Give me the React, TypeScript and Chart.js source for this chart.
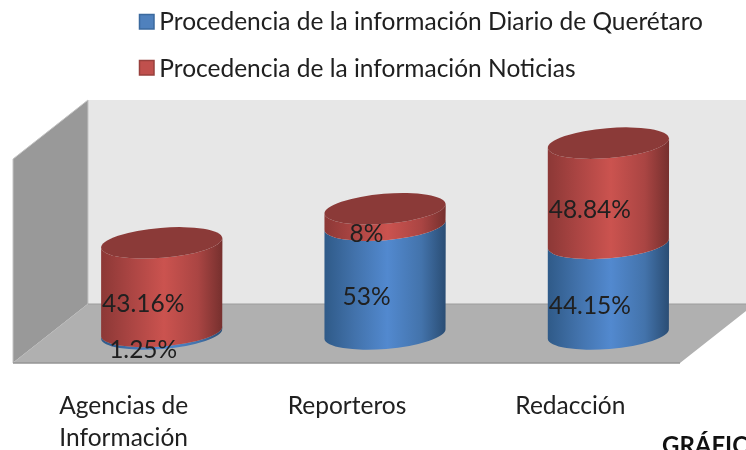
import React, { useEffect, useRef } from "react";
import { Chart, registerables } from "chart.js";

Chart.register(...registerables);

const categories = [["Agencias de", "Información"], ["Reporteros"], ["Redacción"]];
const seriesNames = [
  "Procedencia de la información Diario de Querétaro",
  "Procedencia de la información Noticias",
];
const diarioValues = [1.25, 53, 44.15];
const noticiasValues = [43.16, 8, 48.84];
const cutOffCaption = "GRÁFICO";

const FONT = "Lato, Carlito, 'Open Sans', sans-serif";
const TEXT = "#202020";
const LEGEND_SIZE = 24.5;
const LEGEND_PAD = 23;
const BLUE = "#4f81bd";
const RED = "#c0504d";

const RX_TILT = -0.082;
const RY = 15;

function gradientFor(ctx: CanvasRenderingContext2D, l: number, r: number, stops: string[]) {
  const g = ctx.createLinearGradient(l, 0, r, 0);
  g.addColorStop(0, stops[0]);
  g.addColorStop(0.25, stops[1]);
  g.addColorStop(0.52, stops[2]);
  g.addColorStop(0.8, stops[3]);
  g.addColorStop(1, stops[4]);
  return g;
}
const blueStops = ["#2f5a88", "#4272ab", "#5289cf", "#4373ab", "#2a4d74"];
const redStops = ["#8c3836", "#ab4543", "#cb534f", "#aa4543", "#76302e"];

const scene = {
  id: "scene",
  beforeLayout(chart: any) {
    const legend = chart.legend;
    if (legend && !legend.__wrapped) {
      const fit = legend.fit;
      legend.fit = function () {
        fit.call(this);
        this.height = 100;
      };
      legend.__wrapped = true;
    }
  },
  afterLayout(chart: any) {
    const legend = chart.legend;
    legend.left = 139 - LEGEND_PAD;
    legend.top = 22 - LEGEND_PAD - LEGEND_SIZE / 2;
  },
  beforeDraw(chart: any) {
    const { ctx, chartArea: a } = chart;
    const yTop = a.top;
    const yBack = a.bottom - 30;
    const yFront = a.bottom + 29;
    const xBack = a.left + 38;
    const xFront = a.left - 37;
    const dx = 75;
    const dy = 59;
    const poly = (pts: number[][], fill: string, stroke?: string) => {
      ctx.beginPath();
      pts.forEach((p, i) => (i ? ctx.lineTo(p[0], p[1]) : ctx.moveTo(p[0], p[1])));
      ctx.closePath();
      ctx.fillStyle = fill;
      ctx.fill();
      if (stroke) {
        ctx.strokeStyle = stroke;
        ctx.lineWidth = 1;
        ctx.stroke();
      }
    };
    ctx.save();
    poly([[xBack, yTop], [800, yTop], [800, yBack], [xBack, yBack]], "#e7e7e7");
    poly([[xFront, yTop + dy], [xBack, yTop], [xBack, yBack], [xFront, yBack + dy]], "#999999", "#c4c4c4");
    poly([[xBack, yBack], [800, yBack], [680 + dx, yBack], [680, yFront], [xFront, yFront]], "#b0b0b0");
    ctx.strokeStyle = "#949494";
    ctx.lineWidth = 1.5;
    ctx.beginPath();
    ctx.moveTo(xFront, yFront);
    ctx.lineTo(680, yFront);
    ctx.stroke();
    ctx.strokeStyle = "#9c9c9c";
    ctx.lineWidth = 1;
    ctx.beginPath();
    ctx.moveTo(xBack, yBack);
    ctx.lineTo(746, yBack);
    ctx.stroke();
    ctx.restore();
  },
  beforeDatasetDraw() {
    return false;
  },
  afterDatasetsDraw(chart: any) {
    const { ctx } = chart;
    const last = chart.data.datasets.length - 1;
    const yScale = chart.scales.y;
    ctx.save();
    chart.data.datasets.forEach((_: any, di: number) => {
      const meta = chart.getDatasetMeta(di);
      meta.data.forEach((el: any) => {
        const rx = el.width / 2;
        const l = el.x - rx;
        const r = el.x + rx;
        const dyEdge = Math.sin(RX_TILT) * rx;
        ctx.beginPath();
        ctx.ellipse(el.x, el.base, rx, RY, RX_TILT, Math.PI, 0, true);
        ctx.lineTo(r, el.y + dyEdge);
        ctx.ellipse(el.x, el.y, rx, RY, RX_TILT, 0, Math.PI, false);
        ctx.closePath();
        ctx.fillStyle = gradientFor(ctx, l, r, di === 0 ? blueStops : redStops);
        ctx.fill();
        if (di === last) {
          ctx.beginPath();
          ctx.ellipse(el.x, el.y, rx, RY, RX_TILT, 0, Math.PI * 2);
          ctx.fillStyle = "#8b3a38";
          ctx.fill();
        }
      });
    });
    ctx.font = `${LEGEND_SIZE}px ${FONT}`;
    ctx.fillStyle = TEXT;
    ctx.textAlign = "center";
    ctx.textBaseline = "middle";
    chart.data.datasets.forEach((ds: any, di: number) => {
      const meta = chart.getDatasetMeta(di);
      meta.data.forEach((el: any, i: number) => {
        const start = yScale.getValueForPixel(el.base);
        const mid = start + ds.data[i] / 2;
        ctx.fillText(`${ds.data[i]}%`, el.x - 18.5, yScale.getPixelForValue(mid) + 17);
      });
    });
    ctx.restore();
  },
  afterDraw(chart: any) {
    const { ctx } = chart;
    ctx.save();
    // legend swatches
    [BLUE, RED].forEach((c, i) => {
      const y = [14.5, 60.5][i];
      ctx.fillStyle = c;
      ctx.strokeStyle = i ? "#98403d" : "#3b6a9e";
      ctx.lineWidth = 1.5;
      ctx.beginPath();
      ctx.rect(139.5, y, 14.5, 14.5);
      ctx.fill();
      ctx.stroke();
    });
    ctx.font = `bold 24px ${FONT}`;
    ctx.fillStyle = "#111111";
    ctx.textAlign = "left";
    ctx.textBaseline = "alphabetic";
    ctx.fillText(cutOffCaption, 662, 454);
    ctx.restore();
  },
};

export default function App() {
  const ref = useRef<HTMLCanvasElement>(null);
  useEffect(() => {
    const chart = new Chart(ref.current as HTMLCanvasElement, {
      type: "bar",
      data: {
        labels: categories,
        datasets: [
          { label: seriesNames[0], data: diarioValues, backgroundColor: BLUE, stack: "s" },
          { label: seriesNames[1], data: noticiasValues, backgroundColor: RED, stack: "s" },
        ],
      },
      options: {
        responsive: false,
        animation: false,
        events: [],
        layout: { padding: { left: 50, right: 26, top: 0, bottom: 0 } },
        datasets: { bar: { barPercentage: 0.544, categoryPercentage: 1 } },
        scales: {
          x: {
            stacked: true,
            grid: { display: false, drawTicks: false },
            border: { display: false },
            afterFit(scale: any) {
              scale.height = 116;
            },
            ticks: {
              padding: 56,
              labelOffset: -38,
              maxRotation: 0,
              autoSkip: false,
              color: TEXT,
              font: { family: FONT, size: LEGEND_SIZE, lineHeight: 32 / LEGEND_SIZE },
            },
          },
          y: { stacked: true, display: false, min: 0, max: 114 },
        },
        plugins: {
          tooltip: { enabled: false },
          title: { display: false },
          legend: {
            display: true,
            position: "top",
            align: "start",
            labels: {
              boxWidth: 8,
              boxHeight: 8,
              padding: LEGEND_PAD,
              color: TEXT,
              font: { family: FONT, size: LEGEND_SIZE },
            },
          },
        },
      } as any,
      plugins: [scene] as any,
    });
    return () => chart.destroy();
  }, []);
  return (
    <div style={{ position: "fixed", left: 0, top: 0, width: 746, height: 450, overflow: "hidden", background: "#fff" }}>
      <canvas ref={ref} width={746} height={450} style={{ display: "block", filter: "blur(0.5px)" }} />
    </div>
  );
}
